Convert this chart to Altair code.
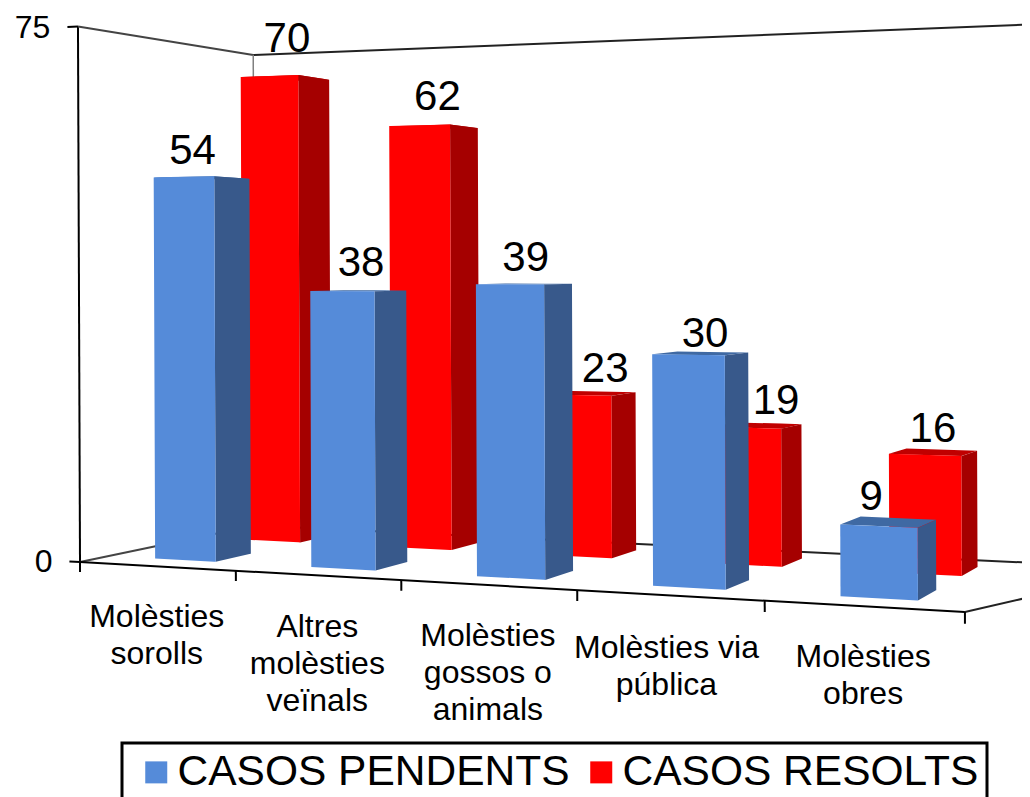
import altair as alt
import pandas as pd

# ---------- chart values ----------
categories = ["Molèsties\nsorolls", "Altres\nmolèsties\nveïnals", "Molèsties\ngossos o\nanimals",
              "Molèsties via\npública", "Molèsties\nobres"]
pendents = [54, 38, 39, 30, 9]
resolts = [70, 62, 23, 19, 16]
series_names = ["CASOS PENDENTS", "CASOS RESOLTS"]
value_ticks = [0, 75]

# ---------- view settings: the perspective camera of the 3-D column chart ----------
FONT = "Liberation Sans"
W, H = 1014, 789
BAR_X = (0.305, 0.70)
DEPTH = {series_names[0]: (0.15, 0.35), series_names[1]: (0.65, 0.85)}
FRONT = {series_names[0]: "#558BD9", series_names[1]: "#FF0000"}
SIDE = {series_names[0]: "#38598B", series_names[1]: "#A50000"}
TOP = {series_names[0]: "#3F69A3", series_names[1]: "#C00000"}
# hand-placed label offsets of the original, (x, y) in pixels
NUDGE = {series_names[0]: [(0, 0), (11, -2), (9, 0), (11, 5), (-12, -3)],
         series_names[1]: [(2, -11), (4, -2), (14, 0), (19, -1), (0, 0)]}
CAT_NUDGE = [(0, 0), (0, 1), (0, 0), (-3, 2), (0, 0)]


def project(X, Y, Z):
    d = 1 - 0.029 * X + 0.138 * Z
    return ((80 + 149 * X + 210.2 * Z - 0.027 * Y) / d,
            (562 - 7.74 * X + 36.1 * Z - 7.14 * Y) / d)


def polygon_rows(face, pts):
    """Convex polygon -> rows for an area mark (x, y, y2)."""
    xs = sorted({round(p[0], 3) for p in pts})
    rows = []
    n = len(pts)
    for x in xs:
        ys = []
        for i in range(n):
            (x0, y0), (x1, y1) = pts[i], pts[(i + 1) % n]
            lo, hi = min(x0, x1), max(x0, x1)
            if lo - 0.002 <= x <= hi + 0.002:
                if abs(x1 - x0) < 0.002:
                    ys += [y0, y1]
                else:
                    ys.append(y0 + (y1 - y0) * (x - x0) / (x1 - x0))
        rows.append({"face": face, "x": x, "y": min(ys), "y2": max(ys)})
    return rows


def faces(series, values):
    z0, z1 = DEPTH[series]
    front, side, top = [], [], []
    for i, v in enumerate(values):
        a, b = i + BAR_X[0], i + BAR_X[1]
        front += polygon_rows(f"f{i}", [project(a, v, z0), project(b, v, z0), project(b, 0, z0), project(a, 0, z0)])
        side += polygon_rows(f"s{i}", [project(b, v, z0), project(b, v, z1), project(b, 0, z1), project(b, 0, z0)])
        top += polygon_rows(f"t{i}", [project(a, v, z0), project(a, v, z1), project(b, v, z1), project(b, v, z0)])
    return pd.DataFrame(front).assign(series=series), pd.DataFrame(side), pd.DataFrame(top)


xs = alt.Scale(domain=[8, 8 + W], range=[0, W], nice=False, zero=False)
ys = alt.Scale(domain=[8 + H, 8], range=[H, 0], nice=False, zero=False)
X_ = alt.X("x:Q", scale=xs, axis=None)
Y_ = alt.Y("y:Q", scale=ys, axis=None, stack=None)
Y2_ = alt.Y2("y2:Q")
color = alt.Color("series:N",
                  scale=alt.Scale(domain=series_names, range=[FRONT[s] for s in series_names]),
                  legend=alt.Legend(title=None, orient="none", legendX=114, legendY=735, columns=2,
                                    direction="horizontal", symbolType="square", symbolSize=484,
                                    symbolStrokeWidth=0, symbolOffset=5, columnPadding=5, labelOffset=0,
                                    labelFont=FONT, labelFontSize=42.5, labelColor="black", labelLimit=500,
                                    padding=8, strokeColor="black", fillColor="white"))

# ---------- frame ----------
edges = [
    ("left", [(0, 0, 0), (0, 75, 0)], "black", 2),
    ("floorL", [(0, 0, 0), (0, 0, 1)], "#444444", 2),
    ("floorF", [(0, 0, 0), (5, 0, 0)], "black", 2),
    ("floorR", [(5, 0, 0), (5.6, 0, 1)], "#222222", 2),
    ("floorB", [(0, 0, 1), (5.6, 0, 1)], "#222222", 2),
    ("wallL", [(0, 75, 0), (0, 75, 1)], "#444444", 2),
    ("wallB", [(0, 75, 1), (5.6, 75, 1)], "#222222", 2),
    ("corner", [(0, 0, 1), (0, 75, 1)], "#808080", 1.5),
    ("t75", [(-0.07, 75, 0), (0, 75, 0)], "black", 2),
    ("t0", [(-0.07, 0, 0), (0, 0, 0)], "black", 2),
] + [(f"c{i}", [(i, 0, 0), (i, -1.4, 0)], "black", 2) for i in range(6)]

line_layers = []
for name, pts, col, sw in edges:
    df = pd.DataFrame([dict(zip(("x", "y"), project(*p))) for p in pts])
    line_layers.append(alt.Chart(df).mark_line(color=col, strokeWidth=sw, clip=True)
                       .encode(x=X_, y=alt.Y("y:Q", scale=ys, axis=None), order=alt.Order("x:Q")))

# ---------- columns ----------
bar_layers = []
for series, values in ((series_names[1], resolts), (series_names[0], pendents)):
    f, s, t = faces(series, values)
    bar_layers.append(alt.Chart(t).mark_area(color=TOP[series], interpolate="linear")
                      .encode(x=X_, y=Y_, y2=Y2_, detail="face:N"))
    bar_layers.append(alt.Chart(s).mark_area(color=SIDE[series], interpolate="linear")
                      .encode(x=X_, y=Y_, y2=Y2_, detail="face:N"))
    bar_layers.append(alt.Chart(f).mark_area(interpolate="linear")
                      .encode(x=X_, y=Y_, y2=Y2_, detail="face:N", color=color))

# ---------- texts ----------
label_rows = []
for series, values, zm in ((series_names[0], pendents, 0.2), (series_names[1], resolts, 0.75)):
    for i, v in enumerate(values):
        py = project(i + 0.5, v, DEPTH[series][0])[1]
        px = project(i + 0.5, v, zm)[0]
        label_rows.append({"x": px + NUDGE[series][i][0], "y": py + NUDGE[series][i][1], "t": str(v)})
data_labels = alt.Chart(pd.DataFrame(label_rows)).mark_text(
    font=FONT, fontSize=42, color="black", baseline="middle", align="center", dy=-26
).encode(x=X_, y=alt.Y("y:Q", scale=ys, axis=None), text="t:N")

cat_rows = []
for i, c in enumerate(categories):
    px, py = project(i + 0.5, 0, 0)
    cat_rows.append({"x": px + CAT_NUDGE[i][0], "y": py + CAT_NUDGE[i][1], "t": c})
cat_labels = alt.Chart(pd.DataFrame(cat_rows)).mark_text(
    font=FONT, fontSize=32, color="black", baseline="top", align="center", lineBreak="\n", lineHeight=37, dy=36
).encode(x=X_, y=alt.Y("y:Q", scale=ys, axis=None), text="t:N")

val_rows = [dict(zip(("x", "y"), project(-0.07, v, 0)), t=str(v)) for v in value_ticks]
val_labels = alt.Chart(pd.DataFrame(val_rows)).mark_text(
    font=FONT, fontSize=32, color="black", baseline="middle", align="right", dx=-17, dy=1
).encode(x=X_, y=alt.Y("y:Q", scale=ys, axis=None), text="t:N")

chart = alt.layer(*line_layers, *bar_layers, data_labels, cat_labels, val_labels).properties(
    width=W, height=H, padding=0, autosize=alt.AutoSizeParams(type="none"),
    background="white"
).configure_view(stroke=None).configure_legend(strokeWidth=3)

chart.save("out.html", embed_options={"renderer": "svg", "actions": False})
